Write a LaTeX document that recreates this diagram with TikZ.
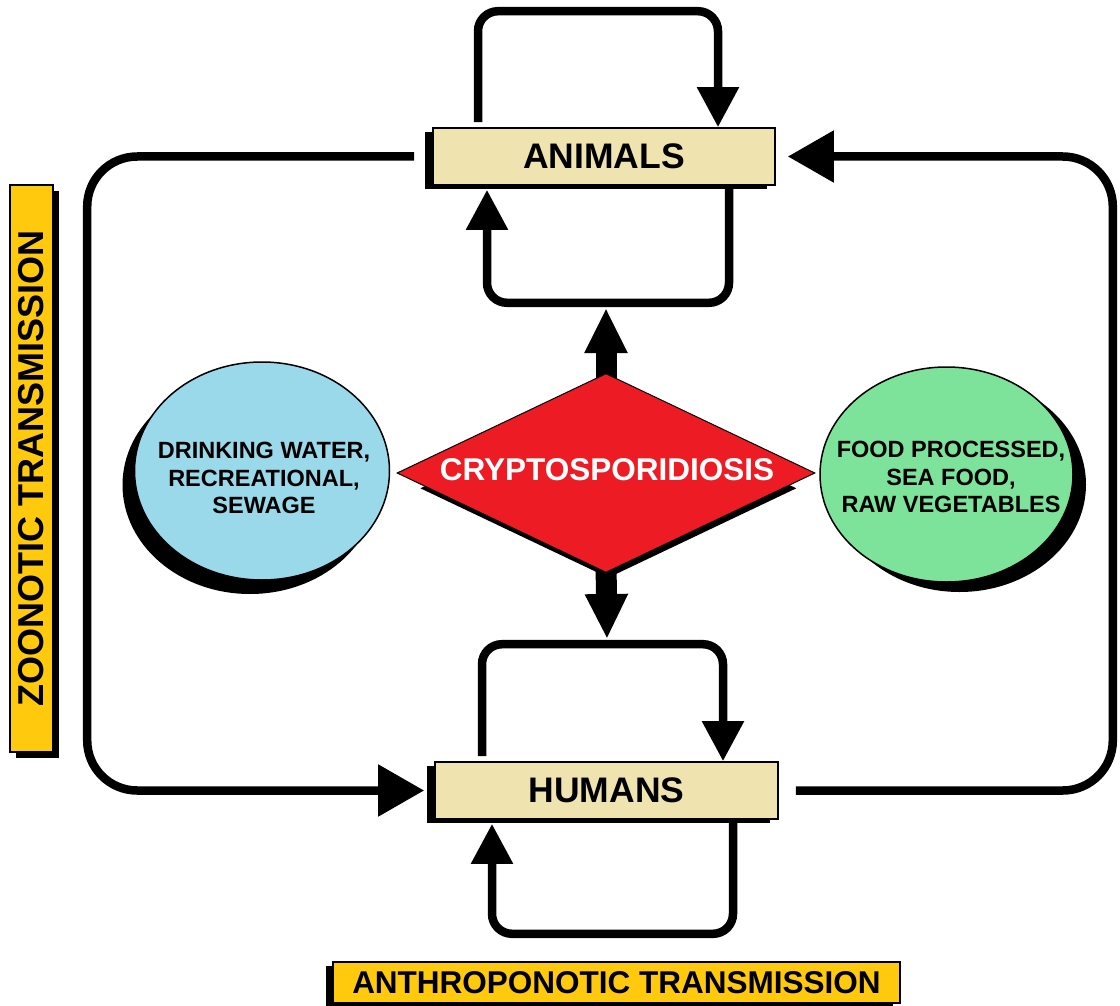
\documentclass[tikz,border=0pt]{standalone}
\usepackage{fontspec}
\setmainfont{Liberation Sans}
\usetikzlibrary{shapes.geometric,arrows.meta,shadows,backgrounds,calc}
\definecolor{boxtan}{HTML}{EFE4B0}
\definecolor{labelgold}{HTML}{FFC90E}
\definecolor{waterblue}{HTML}{99D9EA}
\definecolor{foodgreen}{HTML}{7DE39A}
\definecolor{cryptored}{HTML}{ED1C24}
\begin{document}
\begin{tikzpicture}[x=1pt,y=-1pt,
  hostbox/.style={draw=black, line width=1.6pt, fill=boxtan, minimum width=342pt, minimum height=57pt, inner sep=0pt,
    font=\fontsize{35.5}{40}\selectfont\bfseries,
    drop shadow={shadow xshift=-8pt, shadow yshift=-4pt, opacity=1, fill=black}},
  labelbox/.style={draw=black, line width=1.6pt, fill=labelgold, inner sep=0pt},
  sourceell/.style={ellipse, draw=black, line width=1.5pt, inner sep=0pt},
  sourcetext/.style={align=center, font=\fontsize{23.5}{27.5}\selectfont\bfseries, inner sep=0pt},
  loopline/.style={line width=8.5pt, rounded corners=20pt, -{Triangle[width=40pt,length=40pt]}},
  outerloop/.style={line width=8.5pt, rounded corners=50pt, -{Triangle[width=50pt,length=46pt]}},
  blockarrow/.style={line width=21pt, -{Triangle[width=40pt,length=45pt]}}
]
\useasboundingbox (0,0) rectangle (1120,1006);

% host boxes
\node[hostbox] (animals) at (604,156.5) {ANIMALS};
\node[hostbox, minimum width=343pt] (humans) at (606.5,790.5) {HUMANS};

% central diamond
\node[diamond, fill=cryptored, draw=black, line width=1pt, minimum width=418pt, minimum height=199pt, inner sep=0pt,
  drop shadow={shadow scale=0.9, shadow yshift=-17pt, opacity=1, fill=black}] (crypto) at (606,473) {};
\node[text=white, font=\fontsize{31.5}{36}\selectfont\bfseries, inner sep=0pt] (cryptotext) at (607,470) {CRYPTOSPORIDIOSIS};

% source ellipses
\node[sourceell, fill=waterblue, minimum width=255pt, minimum height=218pt,
  drop shadow={shadow xshift=-12pt, shadow yshift=-14pt, opacity=1, fill=black}] (water) at (262,471) {};
\node[sourcetext] (watertext) at (264,478) {DRINKING WATER,\\RECREATIONAL,\\SEWAGE};
\node[sourceell, fill=foodgreen, minimum width=253pt, minimum height=215pt,
  drop shadow={shadow xshift=13pt, shadow yshift=-10pt, opacity=1, fill=black}] (food) at (946.5,474.5) {};
\node[sourcetext] (foodtext) at (951,477) {FOOD PROCESSED,\\SEA FOOD,\\RAW VEGETABLES};

% transmission labels
\node[labelbox, minimum width=43pt, minimum height=567pt, font=\fontsize{36}{40}\selectfont\bfseries,
  drop shadow={shadow xshift=6pt, shadow yshift=-6pt, opacity=1, fill=black}] (zoo) at (31.5,468.5)
  {\rotatebox{90}{ZOONOTIC TRANSMISSION}};
\node[labelbox, minimum width=567pt, minimum height=41pt, font=\fontsize{31.5}{36}\selectfont\bfseries,
  drop shadow={shadow xshift=-7pt, shadow yshift=-4pt, opacity=1, fill=black}] (anthro) at (616.5,982.5)
  {ANTHROPONOTIC TRANSMISSION};

% self loops
\draw[loopline] ([xshift=-126pt,yshift=5pt]animals.north) -- ++(0,-111) -| ([xshift=114pt]animals.north);
\draw[loopline] ([xshift=125pt]animals.south) -- ++(0,117) -| ([xshift=-117pt,yshift=-4pt]animals.south);
\draw[loopline] ([xshift=-124.5pt,yshift=5pt]humans.north) -- ++(0,-112) -| ([xshift=116.5pt]humans.north);
\draw[loopline] ([xshift=126.5pt]humans.south) -- ++(0,114) -| ([xshift=-114.5pt,yshift=-4pt]humans.south);

% outer loops
\draw[outerloop] ([xshift=-18pt]animals.west) -- ++(-327,0) |- ([xshift=-10pt]humans.west);
\draw[outerloop] ([xshift=17pt]humans.east) -- ++(317,0) |- ([xshift=12pt]animals.east);

% block arrows from the diamond
\coordinate (upend) at (606,308);
\coordinate (downend) at (607,639);
\begin{scope}[on background layer]
\draw[blockarrow] ([yshift=-12pt]crypto.north) -- (upend);
\draw[blockarrow] ([yshift=12pt]crypto.south) -- (downend);
\end{scope}
\end{tikzpicture}
\end{document}
